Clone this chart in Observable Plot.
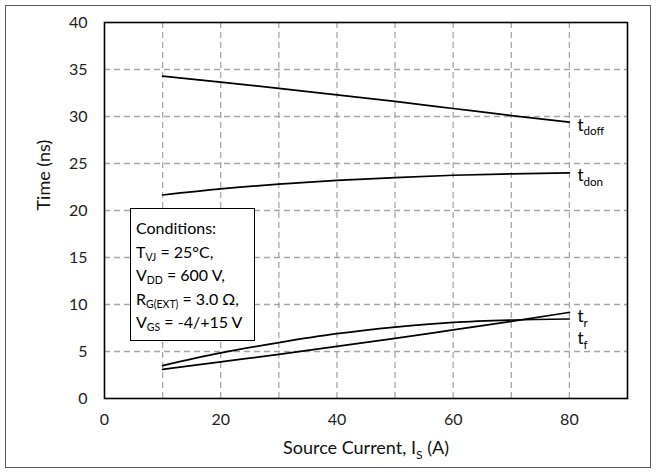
<!DOCTYPE html>
<html><head><meta charset="utf-8">
<script src="https://cdn.jsdelivr.net/npm/d3@7"></script>
<script src="https://cdn.jsdelivr.net/npm/@observablehq/plot@0.6"></script>
<style>
body{margin:0;background:#fff;font-family:Lato,sans-serif;}
#wrap{position:relative;width:656px;height:474px;overflow:hidden;}
#border{position:absolute;left:5px;top:5px;width:646px;height:463px;border:1px solid #595959;box-sizing:border-box;pointer-events:none;}
#chart{position:absolute;left:0;top:0;}
#cond{position:absolute;left:130px;top:208px;width:125px;height:133px;box-sizing:border-box;border:1.5px solid #000;background:#fff;font-family:Lato,sans-serif;font-size:16px;padding:7px 0 0 5px;color:#000;white-space:nowrap;}
#cond div{height:23.5px;line-height:23.5px;}
#cond sub{font-size:10.5px;line-height:0;vertical-align:baseline;position:relative;top:3px;}
</style></head>
<body><div id="wrap"><div id="chart"></div>
<div id="cond"><div>Conditions:</div><div>T<sub>VJ</sub> = 25°C,</div><div>V<sub>DD</sub> = 600 V,</div><div>R<sub>G(EXT)</sub> = 3.0 Ω,</div><div>V<sub>GS</sub> = -4/+15 V</div></div>
<div id="border"></div></div>
<script>
const currents = [10, 20, 30, 40, 50, 60, 70, 80];
const tDoff = [34.3, 33.65, 33.0, 32.3, 31.6, 30.85, 30.1, 29.4];
const tDon  = [21.65, 22.3, 22.8, 23.2, 23.5, 23.75, 23.9, 24.0];
const tR    = [3.1, 3.9, 4.7, 5.55, 6.4, 7.3, 8.2, 9.16];
const tF    = [3.5, 4.85, 5.95, 6.9, 7.6, 8.1, 8.35, 8.46];
const seriesNames = ["doff", "don", "r", "f"];
const xTicks = [0, 20, 40, 60, 80];
const yTicks = [0, 5, 10, 15, 20, 25, 30, 35, 40];
const xGridVals = [10, 20, 30, 40, 50, 60, 70, 80];
const yGridVals = [5, 10, 15, 20, 25, 30, 35];
const xTitle = "Source Current, I_{S} (A)";
const yTitle = "Time (ns)";

const seriesValues = [tDoff, tDon, tR, tF];
const rows = [];
seriesValues.forEach((vals, k) => currents.forEach((c, i) => rows.push({series: seriesNames[k], I: c, t: vals[i]})));
const ends = seriesValues.map((vals, k) => ({series: seriesNames[k], I: currents[currents.length - 1], t: vals[vals.length - 1], label: "t_{" + seriesNames[k] + "}"}));
const labelDy = {doff: 3, don: 3, r: 4, f: 20};

const font = "Lato, sans-serif";
const plot = Plot.plot({
  width: 656, height: 474,
  marginLeft: 104, marginRight: 29, marginTop: 22, marginBottom: 76,
  style: {fontFamily: font, background: "transparent", color: "#222"},
  x: {domain: [0, 90], label: null},
  y: {domain: [0, 40], label: null},
  marks: [
    Plot.gridX(xGridVals, {stroke: "#a6a6a6", strokeOpacity: 1, strokeWidth: 1.3, strokeDasharray: "6,4"}),
    Plot.gridY(yGridVals, {stroke: "#a6a6a6", strokeOpacity: 1, strokeWidth: 1.3, strokeDasharray: "6,4"}),
    Plot.frame({stroke: "#000", strokeWidth: 1.6}),
    Plot.axisX(xTicks, {tickSize: 0, tickPadding: 15, fontSize: 16, label: null}),
    Plot.axisY(yTicks, {tickSize: 0, tickPadding: 17, fontSize: 16, label: null}),
    Plot.line(rows, {x: "I", y: "t", z: "series", curve: "monotone-x", stroke: "#000", strokeWidth: 1.7}),
    ...seriesNames.map(s => Plot.text(ends.filter(d => d.series === s), {x: "I", y: "t", text: "label", dx: 8, dy: labelDy[s], textAnchor: "start", lineAnchor: "middle", fontSize: 17, fill: "#000", className: "rich"})),
    Plot.text([xTitle], {frameAnchor: "bottom", dy: 50, text: d => d, fontSize: 18, fill: "#111", lineAnchor: "middle", className: "rich"}),
    Plot.text([yTitle], {frameAnchor: "left", dx: -60, rotate: -90, text: d => d, fontSize: 18, fill: "#111", lineAnchor: "middle"})
  ]
});
document.getElementById("chart").appendChild(plot);

// subscripts: "base_{sub}rest"
plot.querySelectorAll(".rich text").forEach(el => {
  const str = el.textContent;
  const m = str.match(/^(.*?)_\{(.*?)\}(.*)$/);
  if (!m) return;
  const fs = parseFloat(el.getAttribute("font-size") || getComputedStyle(el).fontSize) || 17;
  el.textContent = "";
  const ns = "http://www.w3.org/2000/svg";
  const a = document.createElementNS(ns, "tspan"); a.textContent = m[1]; el.appendChild(a);
  const b = document.createElementNS(ns, "tspan"); b.textContent = m[2];
  b.setAttribute("font-size", (fs * 0.68).toFixed(1)); b.setAttribute("dy", (fs * 0.28).toFixed(1)); el.appendChild(b);
  if (m[3]) { const c = document.createElementNS(ns, "tspan"); c.textContent = m[3]; c.setAttribute("dy", (-fs * 0.28).toFixed(1)); el.appendChild(c); }
});
</script></body></html>
